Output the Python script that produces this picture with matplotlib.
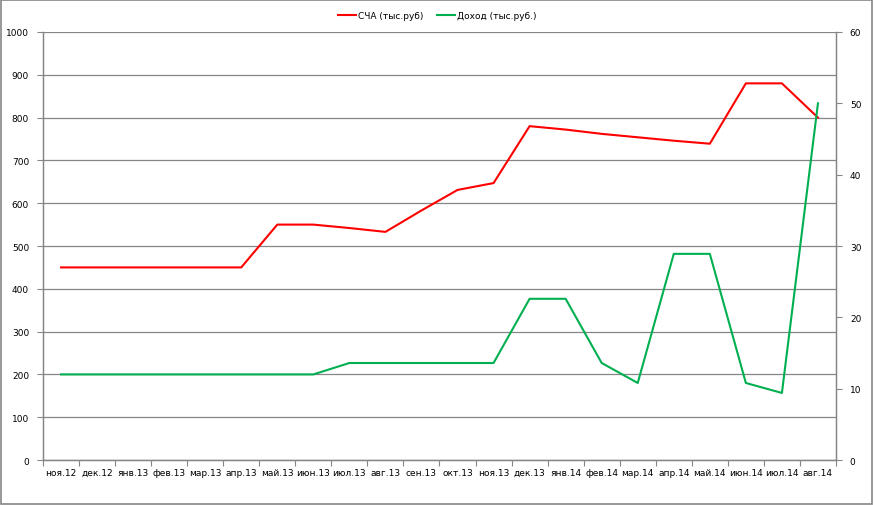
import numpy as np
import matplotlib.pyplot as plt
from matplotlib.patches import Rectangle

months = ['ноя.12', 'дек.12', 'янв.13', 'фев.13', 'мар.13', 'апр.13', 'май.13',
          'июн.13', 'июл.13', 'авг.13', 'сен.13', 'окт.13', 'ноя.13', 'дек.13',
          'янв.14', 'фев.14', 'мар.14', 'апр.14', 'май.14', 'июн.14', 'июл.14',
          'авг.14']
scha = [450, 450, 450, 450, 450, 450, 550, 550, 542, 533, 583, 631, 647, 780,
        772, 762, 754, 746, 739, 880, 880, 800]
dohod = [12, 12, 12, 12, 12, 12, 12, 12, 13.6, 13.6, 13.6, 13.6, 13.6, 22.6,
         22.6, 13.6, 10.8, 28.9, 28.9, 10.8, 9.4, 50.0]

grid_c = '#868686'
fs = 6.5

fig = plt.figure(figsize=(8.74, 5.06), dpi=100)
fig.patches.append(Rectangle((0.001, 0.002), 0.997, 0.996, transform=fig.transFigure,
                             fill=False, edgecolor=grid_c, linewidth=1.2))
ax = fig.add_axes([0.0492, 0.0889, 0.9073, 0.8459])
ax2 = ax.twinx()

x = np.arange(len(months))
l1, = ax.plot(x, scha, color='#FF0000', linewidth=1.5, label='СЧА (тыс.руб)')
l2, = ax2.plot(x, dohod, color='#00B050', linewidth=1.5, label='Доход (тыс.руб.)')

ax.set_xlim(-0.5, len(months) - 0.5)
ax.set_ylim(0, 1000)
ax.set_yticks(np.arange(0, 1001, 100))
ax2.set_ylim(0, 60)
ax2.set_yticks(np.arange(0, 61, 10))

ax.set_xticks(x)
ax.set_xticklabels(months, fontsize=fs)
ax.set_xticks(np.arange(-0.5, len(months), 1), minor=True)
ax.tick_params(axis='x', which='major', length=0, pad=6)
ax.tick_params(axis='x', which='minor', length=4, color=grid_c, width=0.8)
ax.tick_params(axis='y', labelsize=fs, length=4, color=grid_c, width=0.8, pad=6)
ax2.tick_params(axis='y', labelsize=fs, length=4, color=grid_c, width=0.8, pad=6)

ax.yaxis.grid(True, color=grid_c, linewidth=0.9)
ax.set_axisbelow(True)
for a in (ax, ax2):
    a.spines['top'].set_visible(False)
    for s in ('left', 'right', 'bottom'):
        a.spines[s].set_color(grid_c)
        a.spines[s].set_linewidth(0.9)

fig.legend(handles=[l1, l2], loc='center', bbox_to_anchor=(0.5, 0.968), ncol=2,
           frameon=False, fontsize=fs, handlelength=2.0, columnspacing=1.5,
           handletextpad=0.2)

fig.savefig('out.png', dpi=100)
